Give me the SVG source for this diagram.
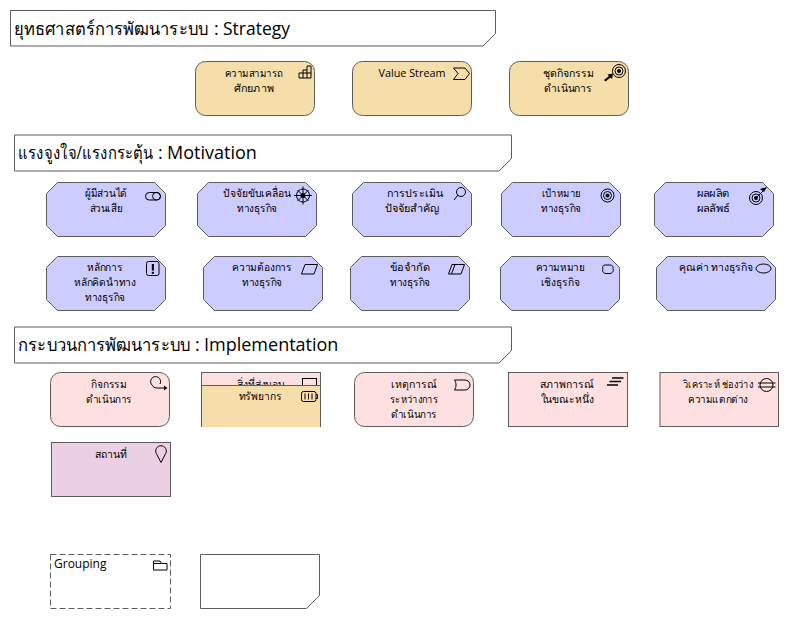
<svg xmlns="http://www.w3.org/2000/svg" width="789" height="619" viewBox="0 0 789 619">
<defs>
<style>
text{font-family:"Open Sans","Noto Sans",sans-serif;fill:#000}
.t{font-size:18px}
.l{font-size:10.5px;text-anchor:middle}
.b{stroke:#5c5c5c;stroke-width:1}
.tan{fill:#F5DEAA}.pur{fill:#CCCCFF}.pnk{fill:#FFE0E0}.loc{fill:#ECCFE2}
.i{fill:none;stroke:#000;stroke-width:1}
.title{fill:#fff}
</style>
<path id="oct" d="M11 0H108L119 11V43L108 54H11L0 43V11Z"/>
<rect id="rnd" width="119" height="54" rx="10" ry="10"/>
</defs>
<rect width="789" height="619" fill="#fff"/>

<g id="title-strategy"><path class="b title" d="M10.5 10.5H495.5V33.5L483 46H10.5Z"/><text class="t" y="35"><tspan x="14" textLength="194" lengthAdjust="spacingAndGlyphs">ยุทธศาสตร์การพัฒนาระบบ</tspan><tspan x="214">:</tspan><tspan x="223" style="font-size:17.500px">Strategy</tspan></text></g>
<g id="title-motivation"><path class="b title" d="M14.5 135H511.5V158.500L499 171H14.5Z"/><text class="t" y="159"><tspan x="18" textLength="135" lengthAdjust="spacingAndGlyphs">แรงจูงใจ/แรงกระตุ้น</tspan><tspan x="158">:</tspan><tspan x="167">Motivation</tspan></text></g>
<g id="title-implementation"><path class="b title" d="M14.500 327H511.500V350.500L499 363H14.500Z"/><text class="t" y="351"><tspan x="18" textLength="172" lengthAdjust="spacingAndGlyphs">กระบวนการพัฒนาระบบ</tspan><tspan x="195">:</tspan><tspan x="204">Implementation</tspan></text></g>

<g id="capability"><use href="#rnd" x="195.500" y="61.500" class="b tan"/><text class="l" x="254" y="77" textLength="58" lengthAdjust="spacingAndGlyphs">ความสามารถ</text><text class="l" x="254" y="92" textLength="40" lengthAdjust="spacingAndGlyphs">ศักยภาพ</text><path class="i" d="M299 78V73H303V70H307V66H311V78ZM303 73V78M307 70V78M303 73H311"/></g>
<g id="value-stream"><use href="#rnd" x="352.500" y="61.500" class="b tan"/><text class="l" x="412" y="77" style="font-size:10.800px">Value Stream</text><path class="i" d="M453.500 68H465L469.500 73.500L465 79.500H453.500L458 73.500Z"/></g>
<g id="course-of-action"><use href="#rnd" x="509.500" y="61.500" class="b tan"/><text class="l" x="568" y="77" textLength="51" lengthAdjust="spacingAndGlyphs">ชุดกิจกรรม</text><text class="l" x="568" y="92" textLength="48" lengthAdjust="spacingAndGlyphs">ดำเนินการ</text><circle class="i" cx="619" cy="71" r="6.500"/><circle class="i" cx="619" cy="71" r="4"/><circle cx="619" cy="71" r="2"/><path d="M604 80L609 76L607.500 74.500L613 73.500L612 79L610.500 77.500L605.500 81.500Z"/></g>

<g id="stakeholder"><use href="#oct" x="46.500" y="182.500" class="b pur"/><text class="l" x="106" y="197" textLength="42" lengthAdjust="spacingAndGlyphs">ผู้มีส่วนได้</text><text class="l" x="106" y="212" textLength="33" lengthAdjust="spacingAndGlyphs">ส่วนเสีย</text><rect class="i" x="145.500" y="192.500" width="15" height="7.500" rx="3.750"/><ellipse class="i" cx="156.500" cy="196.250" rx="4" ry="3.750"/></g>
<g id="driver"><use href="#oct" x="197.500" y="182.500" class="b pur"/><text class="l" x="257" y="197" textLength="68" lengthAdjust="spacingAndGlyphs">ปัจจัยขับเคลื่อน</text><text class="l" x="257" y="212" textLength="40" lengthAdjust="spacingAndGlyphs">ทางธุรกิจ</text><circle class="i" cx="303" cy="195.500" r="6.500"/><circle cx="303" cy="195.500" r="2.500"/><path class="i" d="M294 195.500H312M303 186.500V204.500M297.500 190L308.500 201M308.500 190L297.500 201"/></g>
<g id="assessment"><use href="#oct" x="352.500" y="182.500" class="b pur"/><text class="l" x="415" y="197" textLength="56" lengthAdjust="spacingAndGlyphs">การประเมิน</text><text class="l" x="412" y="212" textLength="55" lengthAdjust="spacingAndGlyphs">ปัจจัยสำคัญ</text><circle class="i" cx="461" cy="192" r="4.500"/><path class="i" d="M457.800 195.200L454 200"/></g>
<g id="goal"><use href="#oct" x="501.500" y="182.500" class="b pur"/><text class="l" x="561" y="197" textLength="39" lengthAdjust="spacingAndGlyphs">เป้าหมาย</text><text class="l" x="561" y="212" textLength="40" lengthAdjust="spacingAndGlyphs">ทางธุรกิจ</text><circle class="i" cx="607.500" cy="195.500" r="6.500"/><circle class="i" cx="607.500" cy="195.500" r="4"/><circle cx="607.500" cy="195.500" r="2"/></g>
<g id="outcome"><use href="#oct" x="654.500" y="182.500" class="b pur"/><text class="l" x="713" y="197" textLength="33" lengthAdjust="spacingAndGlyphs">ผลผลิต</text><text class="l" x="713" y="212" textLength="33" lengthAdjust="spacingAndGlyphs">ผลลัพธ์</text><circle class="i" cx="756" cy="198" r="6.500"/><circle class="i" cx="756" cy="198" r="4"/><circle cx="756" cy="198" r="2"/><path class="i" d="M756 198L765 189"/><path d="M760 189L764 192L767 187Z"/></g>

<g id="principle"><use href="#oct" x="46.500" y="256.500" class="b pur"/><text class="l" x="105" y="271" textLength="36" lengthAdjust="spacingAndGlyphs">หลักการ</text><text class="l" x="105" y="286" textLength="62" lengthAdjust="spacingAndGlyphs">หลักคิดนำทาง</text><text class="l" x="105" y="301" textLength="40" lengthAdjust="spacingAndGlyphs">ทางธุรกิจ</text><rect class="i" x="146.500" y="261.500" width="12.500" height="14" rx="2"/><path d="M151.800 264H154V270.500H151.800Z"/><rect x="151.800" y="271.800" width="2.200" height="2"/></g>
<g id="requirement"><use href="#oct" x="203.500" y="256.500" class="b pur"/><text class="l" x="262" y="271" textLength="60" lengthAdjust="spacingAndGlyphs">ความต้องการ</text><text class="l" x="262" y="286" textLength="40" lengthAdjust="spacingAndGlyphs">ทางธุรกิจ</text><path class="i" d="M301.500 274L305 264.500H317.500L314 274Z"/></g>
<g id="constraint"><use href="#oct" x="350.500" y="256.500" class="b pur"/><text class="l" x="410" y="271" textLength="40" lengthAdjust="spacingAndGlyphs">ข้อจำกัด</text><text class="l" x="410" y="286" textLength="40" lengthAdjust="spacingAndGlyphs">ทางธุรกิจ</text><path class="i" d="M448.500 274L452 264.500H464.500L461 274ZM451.500 274L455 264.500"/></g>
<g id="meaning"><use href="#oct" x="500.500" y="256.500" class="b pur"/><text class="l" x="560" y="271" textLength="49" lengthAdjust="spacingAndGlyphs">ความหมาย</text><text class="l" x="560" y="286" textLength="39" lengthAdjust="spacingAndGlyphs">เชิงธุรกิจ</text><path class="i" d="M605 265H610C612.500 265 613.500 267 613 268.500C614 270.500 612.500 273.500 610 273.500H606C603 273.500 602 271 603 269C602 267 603 265 605 265Z"/></g>
<g id="value"><use href="#oct" x="656.500" y="256.500" class="b pur"/><text class="l" x="716" y="271" textLength="74" lengthAdjust="spacingAndGlyphs">คุณค่า ทางธุรกิจ</text><ellipse class="i" cx="763.500" cy="268.500" rx="7.500" ry="4.500"/></g>

<g id="business-process"><use href="#rnd" x="50.500" y="372.500" class="b pnk"/><text class="l" x="109" y="388" textLength="36" lengthAdjust="spacingAndGlyphs">กิจกรรม</text><text class="l" x="109" y="403" textLength="46" lengthAdjust="spacingAndGlyphs">ดำเนินการ</text><path class="i" d="M160 384A5 5 0 1 0 152.500 385.500C153 387 154.500 388 157 388H165"/><path d="M164 385.500L167.500 388L164 390.500Z"/></g>
<g id="deliverable"><rect class="b pnk" x="201.500" y="372.500" width="119" height="30"/><text class="l" x="261" y="388" textLength="48" lengthAdjust="spacingAndGlyphs">สิ่งที่ส่งมอบ</text><rect class="i" x="302.500" y="378.500" width="14" height="12"/></g>
<g id="resource"><rect class="tan" x="201.500" y="385" width="119" height="42"/><path class="b" fill="none" d="M201.500 427V385.500H320.500V427"/><text class="l" x="260" y="400" textLength="43" lengthAdjust="spacingAndGlyphs">ทรัพยากร</text><rect class="i" x="301.500" y="391.500" width="14.500" height="10" rx="2"/><path class="i" d="M316 394.500H317.500V398.500H316M305 393.500V399.500M308.500 393.500V399.500M312 393.500V399.500"/></g>
<g id="event"><use href="#rnd" x="354.500" y="372.500" class="b pnk"/><text class="l" x="414" y="388" textLength="46" lengthAdjust="spacingAndGlyphs">เหตุการณ์</text><text class="l" x="414" y="403" textLength="48" lengthAdjust="spacingAndGlyphs">ระหว่างการ</text><text class="l" x="414" y="418" textLength="46" lengthAdjust="spacingAndGlyphs">ดำเนินการ</text><path class="i" d="M454.500 380H465A5 5 0 0 1 465 390H454.500C456.500 387 456.500 383 454.500 380Z"/></g>
<g id="plateau"><rect class="b pnk" x="508.500" y="372.500" width="119" height="54"/><text class="l" x="567" y="388" textLength="54" lengthAdjust="spacingAndGlyphs">สภาพการณ์</text><text class="l" x="567" y="403" textLength="53" lengthAdjust="spacingAndGlyphs">ในขณะหนึ่ง</text><path class="i" style="stroke-width:1.500" d="M612 378H623.500M609.500 381.500H621M607 385H618"/></g>
<g id="gap"><rect class="b pnk" x="660" y="372.500" width="118.500" height="54"/><text class="l" x="718" y="388" textLength="70" lengthAdjust="spacingAndGlyphs">วิเคราะห์ ช่องว่าง</text><text class="l" x="718" y="403" textLength="60" lengthAdjust="spacingAndGlyphs">ความแตกต่าง</text><circle class="i" cx="766.500" cy="385" r="6.500"/><path class="i" d="M758 383H775.500M758 387H775.500"/></g>
<g id="location"><rect class="b loc" x="51.500" y="442.500" width="119" height="54"/><text class="l" x="111" y="458" textLength="32" lengthAdjust="spacingAndGlyphs">สถานที่</text><path class="i" d="M161 462.500L156.300 453.500A5.300 5.300 0 1 1 165.700 453.500Z"/></g>

<g id="grouping"><rect x="50.500" y="554.500" width="120" height="54" fill="#fff" stroke="#5c5c5c" stroke-dasharray="6 3"/><text x="54" y="568" style="font-size:12px">Grouping</text><path class="i" d="M153.500 570V561H160L161.500 563.500H167V570ZM153.500 563.500H161.500"/></g>
<g id="note"><path class="b" fill="#fff" d="M200.500 554.500H319.500V595.500L306.500 608.500H200.500Z"/></g>
</svg>
